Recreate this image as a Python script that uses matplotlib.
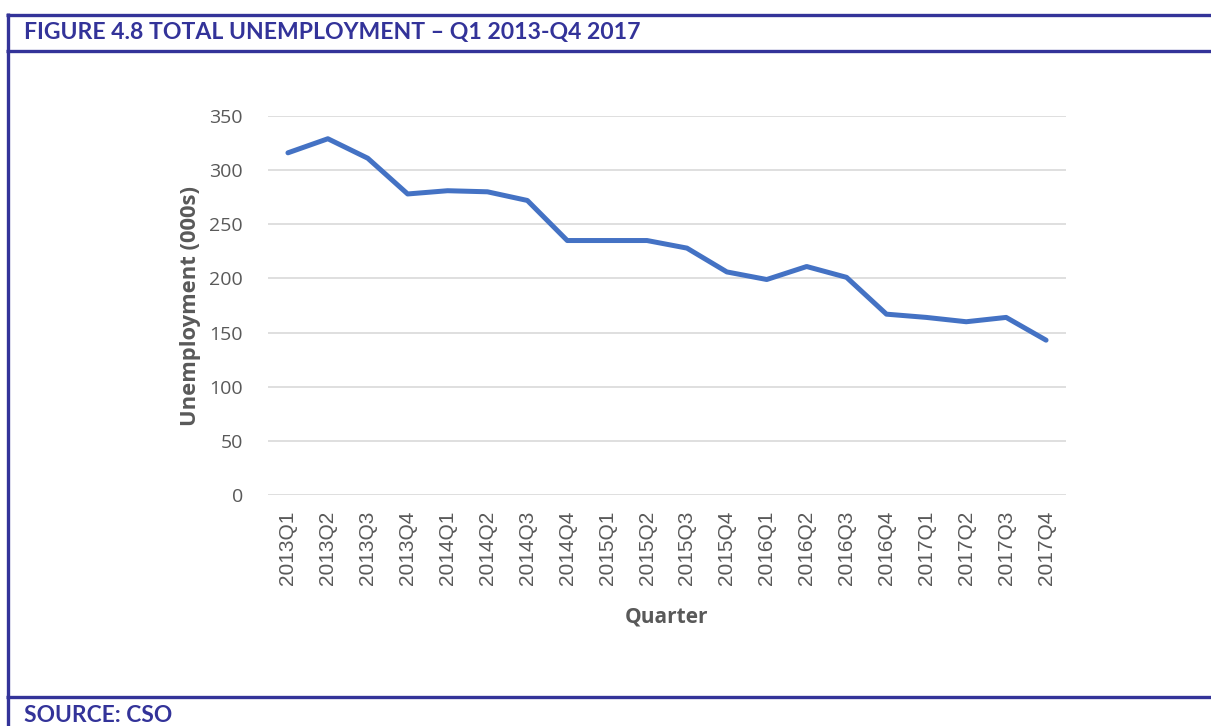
import matplotlib.pyplot as plt
from matplotlib.lines import Line2D

# CSO quarterly unemployment, thousands
quarters = ["2013Q1", "2013Q2", "2013Q3", "2013Q4",
            "2014Q1", "2014Q2", "2014Q3", "2014Q4",
            "2015Q1", "2015Q2", "2015Q3", "2015Q4",
            "2016Q1", "2016Q2", "2016Q3", "2016Q4",
            "2017Q1", "2017Q2", "2017Q3", "2017Q4"]
unemployment = [316, 329, 311, 278,
                281, 280, 272, 235,
                235, 235, 228, 206,
                199, 211, 201, 167,
                164, 160, 164, 143]
y_ticks = [0, 50, 100, 150, 200, 250, 300, 350]

W, H = 1211, 726
navy = "#333399"
grey = "#595959"

fig = plt.figure(figsize=(W / 100, H / 100), dpi=100)

# frame: left rule plus horizontal rules around the header and footer
def hline(y, x0=6):
    fig.add_artist(Line2D([x0 / W, 1], [1 - y / H, 1 - y / H],
                          color=navy, lw=2.4, solid_capstyle="butt"))

hline(14.5)
hline(50.5)
hline(696.5)
fig.add_artist(Line2D([7.5 / W, 7.5 / W], [0, 1 - 13 / H],
                      color=navy, lw=2.4, solid_capstyle="butt"))

fig.text(24 / W, 1 - 33 / H, "FIGURE 4.8 TOTAL UNEMPLOYMENT \u2013 Q1 2013-Q4 2017",
         color=navy, fontsize=16.6, fontweight="bold", family="Lato",
         va="center", ha="left")
fig.text(24 / W, 1 - 715 / H, "SOURCE: CSO",
         color=navy, fontsize=16.4, fontweight="bold", family="Lato",
         va="center", ha="left")

# plot area
left, right, top, bottom = 268, 1066, 116, 495
ax = fig.add_axes([left / W, 1 - bottom / H, (right - left) / W, (bottom - top) / H])

x = list(range(len(quarters)))
ax.plot(x, unemployment, color="#4472C4", lw=3.6, solid_joinstyle="round",
        solid_capstyle="round", zorder=3)

ax.set_xlim(-0.5, len(quarters) - 0.5)
ax.set_ylim(0, 350)
ax.set_yticks(y_ticks)
ax.set_xticks(x)
ax.set_xticklabels(quarters, rotation=90, family="Liberation Sans",
                   fontsize=15, color=grey)
ax.set_yticklabels([str(v) for v in y_ticks], family="Open Sans",
                   fontsize=14, color=grey)
ax.tick_params(length=0)
ax.tick_params(axis="x", pad=11)
ax.tick_params(axis="y", pad=18)

ax.grid(axis="y", color="#D9D9D9", lw=1.2)
ax.set_axisbelow(True)
for side in ["top", "right", "left", "bottom"]:
    ax.spines[side].set_visible(False)

ax.set_ylabel("Unemployment (000s)", family="Open Sans", fontweight="bold",
              fontsize=15.8, color=grey, labelpad=6)
ax.set_xlabel("Quarter", family="Open Sans", fontweight="bold",
              fontsize=15, color=grey, labelpad=16)

fig.savefig("out.png", dpi=100, facecolor="white")
